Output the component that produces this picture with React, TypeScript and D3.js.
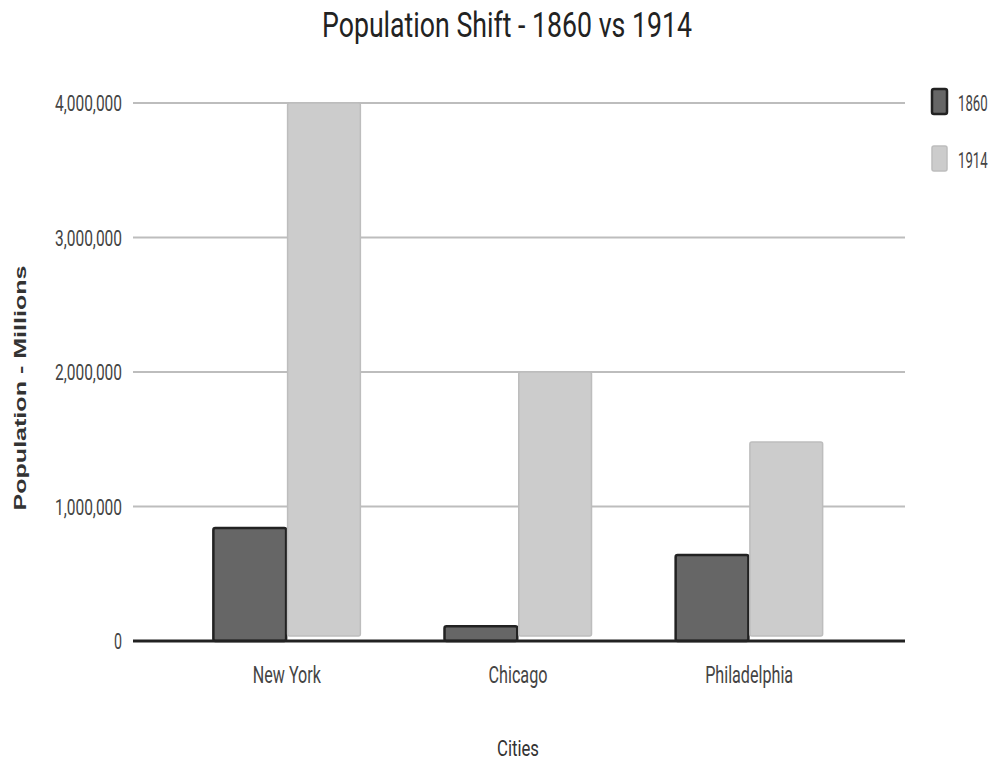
import React from 'react'
import * as d3 from 'd3'

const cities = ['New York', 'Chicago', 'Philadelphia']
const years = ['1860', '1914']
const pop1860 = [840000, 110000, 640000]
const pop1914 = [4000000, 2000000, 1480000]
const yTicks = [0, 1000000, 2000000, 3000000, 4000000]

const W = 996
const H = 762
const plot = { left: 133, right: 905, top: 103, bottom: 641 }

const fill: Record<string, string> = { '1860': '#666666', '1914': '#cccccc' }
const stroke: Record<string, string> = { '1860': '#222222', '1914': '#bdbdbd' }

const font = 'Roboto, "Noto Sans", sans-serif'

const App = () => {
  const y = d3.scaleLinear().domain([0, 4000000]).range([plot.bottom, plot.top])

  const x = d3.scaleBand<string>()
    .domain(cities)
    .range([plot.left, plot.right])
    .paddingInner(0)
    .paddingOuter(0.17)

  // two bars per city, ~72px each with a small gap
  const inner = d3.scaleBand<string>().domain(years).range([0, 147]).paddingInner(0.02)
  const groupOffset = (x.bandwidth() - 147) / 2 - 1

  const fmt = d3.format(',')
  const series: Record<string, number[]> = { '1860': pop1860, '1914': pop1914 }

  return (
    <svg width={W} height={H} style={{ display: 'block', position: 'absolute', left: 0, top: 0, background: '#fff' }}>
      <rect width={W} height={H} fill="#fff" />
      <text x={507} y={37} textAnchor="middle" fontFamily={font} fontSize={35}
        fill="#222" textLength={370} lengthAdjust="spacingAndGlyphs">
        Population Shift - 1860 vs 1914
      </text>

      {/* grid + y ticks */}
      {yTicks.map(t => (
        <g key={t}>
          {t > 0 && (
            <line x1={plot.left} x2={plot.right} y1={y(t)} y2={y(t)} stroke="#bdbdbd" strokeWidth={2} />
          )}
          <text x={122} y={y(t) + 8} textAnchor="end" fontFamily={font} fontSize={22} fill="#444"
            textLength={t === 0 ? 8 : 67} lengthAdjust="spacingAndGlyphs">
            {fmt(t)}
          </text>
        </g>
      ))}

      {/* bars */}
      {cities.map((c, i) => (
        <g key={c} transform={`translate(${x(c)! + groupOffset},0)`}>
          {years.map(yr => {
            const v = series[yr][i]
            const top = y(v)
            const bottom = yr === '1914' ? y(0) - 5 : y(0)
            return (
              <rect key={yr} x={inner(yr)} y={top} width={inner.bandwidth()} height={bottom - top}
                rx={2} fill={fill[yr]} stroke={stroke[yr]} strokeWidth={yr === '1860' ? 2.5 : 1.5} />
            )
          })}
        </g>
      ))}

      <line x1={plot.left} x2={plot.right} y1={y(0)} y2={y(0)} stroke="#222" strokeWidth={3} />

      {/* x labels */}
      {cities.map(c => (
        <text key={c} x={x(c)! + x.bandwidth() / 2 - 1} y={683} textAnchor="middle" fontFamily={font}
          fontSize={23} fill="#444" textLength={c === 'New York' ? 68 : c === 'Chicago' ? 59 : 88}
          lengthAdjust="spacingAndGlyphs">
          {c}
        </text>
      ))}

      <text x={518} y={756} textAnchor="middle" fontFamily={font} fontSize={22} fill="#333"
        textLength={42} lengthAdjust="spacingAndGlyphs">
        Cities
      </text>

      <text transform="translate(26,388) rotate(-90)" textAnchor="middle"
        fontFamily='"Liberation Sans", Arial, sans-serif' fontWeight="bold" fontSize={16} fill="#333"
        textLength={245} lengthAdjust="spacingAndGlyphs">
        Population - Millions
      </text>

      {/* legend */}
      {years.map((yr, i) => (
        <g key={yr} transform={`translate(932,${89 + i * 57})`}>
          <rect x={0} y={0} width={15} height={25} rx={2} fill={fill[yr]} stroke={stroke[yr]}
            strokeWidth={yr === '1860' ? 2.5 : 1.5} />
          <text transform="translate(26,22) scale(0.6,1)" fontFamily={font} fontSize={22} fill="#444">
            {yr}
          </text>
        </g>
      ))}
    </svg>
  )
}

export default App
